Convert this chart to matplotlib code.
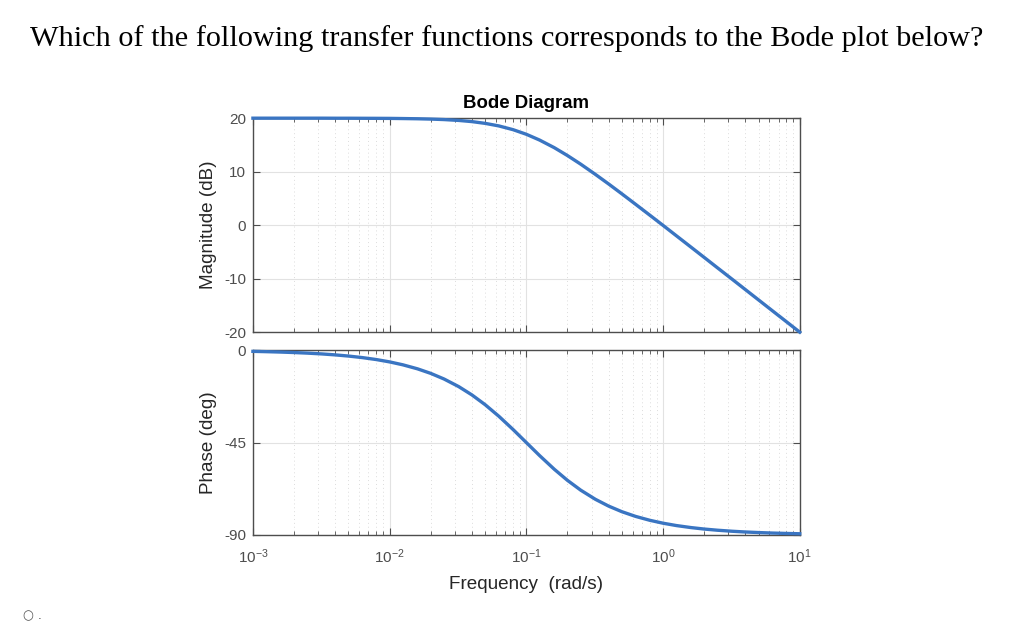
import numpy as np
import matplotlib.pyplot as plt
from matplotlib.ticker import LogLocator, NullFormatter, FixedLocator

# values
freq = [0.001, 0.00125, 0.0016, 0.002, 0.0025, 0.0032, 0.004, 0.005, 0.0063, 0.008,
        0.01, 0.0125, 0.016, 0.02, 0.025, 0.032, 0.04, 0.05, 0.063, 0.08,
        0.1, 0.125, 0.16, 0.2, 0.25, 0.32, 0.4, 0.5, 0.63, 0.8,
        1.0, 1.25, 1.6, 2.0, 2.5, 3.2, 4.0, 5.0, 6.3, 8.0, 10.0]
mag_db = [20.0, 20.0, 20.0, 20.0, 20.0, 20.0, 19.99, 19.99, 19.98, 19.97,
          19.96, 19.93, 19.89, 19.83, 19.74, 19.58, 19.36, 19.03, 18.55, 17.85,
          16.99, 15.91, 14.49, 13.01, 11.4, 9.49, 7.7, 5.85, 3.9, 1.87,
          -0.04, -1.97, -4.1, -6.03, -7.97, -10.1, -12.04, -13.98, -15.99, -18.06, -20.0]
phase_deg = [-0.57, -0.72, -0.92, -1.15, -1.43, -1.83, -2.29, -2.86, -3.6, -4.57,
             -5.71, -7.13, -9.09, -11.31, -14.04, -17.74, -21.8, -26.57, -32.21, -38.66,
             -45.0, -51.34, -57.99, -63.43, -68.2, -72.65, -75.96, -78.69, -80.98, -82.87,
             -84.29, -85.43, -86.42, -87.14, -87.71, -88.21, -88.57, -88.85, -89.09, -89.28, -89.43]

mag_ticks = [20, 10, 0, -10, -20]
phase_ticks = [0, -45, -90]
freq_ticks = [1e-3, 1e-2, 1e-1, 1e0, 1e1]
freq_labels = ['$10^{-3}$', '$10^{-2}$', '$10^{-1}$', '$10^{0}$', '$10^{1}$']

plt.rcParams['font.family'] = ['Liberation Sans', 'DejaVu Sans']
plt.rcParams['axes.unicode_minus'] = False
plt.rcParams['mathtext.fontset'] = 'custom'
plt.rcParams['mathtext.rm'] = 'Liberation Sans'
plt.rcParams['mathtext.it'] = 'Liberation Sans'
line_col = '#3a75c2'
axis_col = '#4d4d4d'
label_col = '#262626'

fig = plt.figure(figsize=(10.24, 6.22), dpi=100)
fig.text(0.495, 0.938, 'Which of the following transfer functions corresponds to the Bode plot below?',
         ha='center', va='center', fontsize=21.8, family=['Liberation Serif', 'DejaVu Serif'])
fig.text(0.022, 0.005, '\u25cb .', fontsize=9, color='#555555', family=['DejaVu Sans'])

ax1 = fig.add_axes([0.247, 0.466, 0.534, 0.344])
ax2 = fig.add_axes([0.247, 0.140, 0.534, 0.297])

for ax in (ax1, ax2):
    ax.set_xscale('log')
    ax.set_xlim(1e-3, 1e1)
    ax.xaxis.set_major_locator(FixedLocator(freq_ticks))
    ax.xaxis.set_minor_locator(LogLocator(base=10, subs=np.arange(2, 10), numticks=20))
    ax.xaxis.set_minor_formatter(NullFormatter())
    ax.grid(True, which='major', color='#e2e2e2', linewidth=0.8)
    ax.grid(True, which='minor', axis='x', color='#dcdcdc', linestyle=(0, (1, 3)), linewidth=0.7)
    ax.set_axisbelow(True)
    ax.tick_params(which='both', direction='in', top=True, right=True, colors=axis_col,
                   labelsize=11, labelcolor=axis_col)
    ax.tick_params(which='major', length=5)
    ax.tick_params(which='minor', length=3)
    ax.tick_params(axis='x', pad=9)
    ax.tick_params(axis='y', pad=5)
    for s in ax.spines.values():
        s.set_color(axis_col)
        s.set_linewidth(1.0)

ax1.plot(freq, mag_db, color=line_col, linewidth=2.4, clip_on=False, zorder=5)
ax1.set_ylim(-20, 20)
ax1.yaxis.set_major_locator(FixedLocator(mag_ticks))
ax1.tick_params(axis='x', labelbottom=False)
ax1.set_ylabel('Magnitude (dB)', fontsize=13.6, labelpad=5, color=label_col)
ax1.set_title('Bode Diagram', fontsize=13.4, fontweight='bold', pad=7)

ax2.plot(freq, phase_deg, color=line_col, linewidth=2.4, clip_on=False, zorder=5)
ax2.set_ylim(-90, 0)
ax2.yaxis.set_major_locator(FixedLocator(phase_ticks))
ax2.set_xticklabels(freq_labels)
ax2.set_ylabel('Phase (deg)', fontsize=13.6, labelpad=5, color=label_col)
ax2.set_xlabel('Frequency  (rad/s)', fontsize=13.6, labelpad=7, color=label_col)

fig.savefig('out.png', dpi=100)
